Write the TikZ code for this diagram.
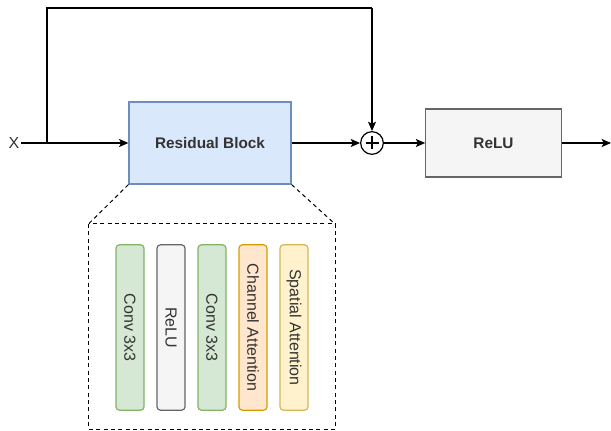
\documentclass[tikz,border=0pt]{standalone}
\usepackage{fontspec}
\setmainfont{Liberation Sans}
\usetikzlibrary{arrows.meta}
\definecolor{txt}{HTML}{333333}
\definecolor{bluefill}{HTML}{DAE8FC}\definecolor{bluedraw}{HTML}{6C8EBF}
\definecolor{grayfill}{HTML}{F5F5F5}\definecolor{graydraw}{HTML}{666666}
\definecolor{greenfill}{HTML}{D5E8D4}\definecolor{greendraw}{HTML}{82B366}
\definecolor{orangefill}{HTML}{FFE6CC}\definecolor{orangedraw}{HTML}{D79B00}
\definecolor{yellowfill}{HTML}{FFF2CC}\definecolor{yellowdraw}{HTML}{D6B656}
\tikzset{
  flow/.style={line width=1pt, -{Stealth[length=7pt,width=6pt,inset=1.5pt]}},
  bigbox/.style={draw, line width=0.9pt, minimum width=121.5pt, inner sep=0pt,
    font=\fontsize{11.5}{13}\selectfont\bfseries, text=txt},
  layer/.style={draw, line width=0.9pt, rounded corners=2.5pt, minimum width=21pt,
    minimum height=124pt, inner sep=0pt},
  layertext/.style={rotate=-90, font=\fontsize{12}{14}\selectfont, text=txt, inner sep=0pt},
  dashline/.style={dash pattern=on 3pt off 2.5pt, line width=0.75pt},
}
\begin{document}
\begin{tikzpicture}[x=0.75pt, y=-0.75pt]
  \useasboundingbox (0,0) rectangle (611,431);

  % main path
  \node[font=\fontsize{12}{14}\selectfont, text=txt, inner sep=1pt] (x) at (14,143) {X};
  \node[bigbox, fill=bluefill, draw=bluedraw, minimum height=61.5pt] (res) at (210,143) {Residual Block};
  \node[circle, draw, line width=0.9pt, minimum size=17pt, inner sep=0pt] (plus) at (372,143) {};
  \draw[line width=1.2pt] (plus.center) +(0,-6.5) -- +(0,6.5) +(-6.5,0) -- +(6.5,0);
  \node[bigbox, fill=grayfill, draw=graydraw, minimum width=101.5pt, minimum height=51pt] (relu) at (493.5,143) {ReLU};
  \coordinate (out) at (611,143);
  \coordinate (split) at (47,143);
  \coordinate (top) at (372,8);

  \draw[flow] (x) -- (res);
  \draw[line width=1pt] (split) |- (top);
  \draw[flow] (top) -- (plus.north);
  \draw[flow] (res) -- (plus);
  \draw[flow] (plus) -- (relu);
  \draw[flow] (relu) -- (out);

  % expanded view of the residual block
  \coordinate (dtl) at (88.5,224);
  \coordinate (dtr) at (335,224);
  \coordinate (dbr) at (335,429);
  \draw[dashline] (dtl) rectangle (dbr);
  \draw[dashline] (res.south west) -- (dtl);
  \draw[dashline] (res.south east) -- (dtr);

  \node[layer, fill=greenfill, draw=greendraw] (c1) at (130,327.5) {};
  \node[layertext] at (c1) {Conv 3x3};
  \node[layer, fill=grayfill, draw=graydraw] (r1) at (171,327.5) {};
  \node[layertext] at (r1) {ReLU};
  \node[layer, fill=greenfill, draw=greendraw] (c2) at (212,327.5) {};
  \node[layertext] at (c2) {Conv 3x3};
  \node[layer, fill=orangefill, draw=orangedraw] (ca) at (253,327.5) {};
  \node[layertext] at (ca) {Channel Attention};
  \node[layer, fill=yellowfill, draw=yellowdraw] (sa) at (294,327.5) {};
  \node[layertext] at (sa) {Spatial Attention};
\end{tikzpicture}
\end{document}
